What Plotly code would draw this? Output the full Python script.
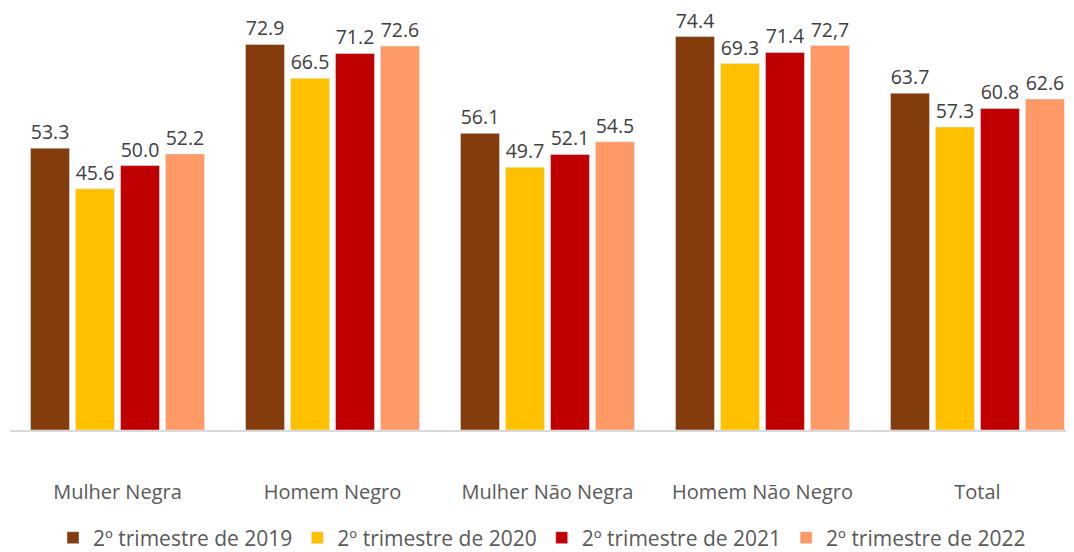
import plotly.graph_objects as go

categories = ["Mulher Negra", "Homem Negro", "Mulher Não Negra", "Homem Não Negro", "Total"]
series_names = ["2º trimestre de 2019", "2º trimestre de 2020", "2º trimestre de 2021", "2º trimestre de 2022"]
v2019 = [53.3, 72.9, 56.1, 74.4, 63.7]
v2020 = [45.6, 66.5, 49.7, 69.3, 57.3]
v2021 = [50.0, 71.2, 52.1, 71.4, 60.8]
v2022 = [52.2, 72.6, 54.5, 72.7, 62.6]
labels2022 = ["52.2", "72.6", "54.5", "72,7", "62.6"]
colors = ["#843C0C", "#FFC000", "#C00000", "#FF9966"]

series = [v2019, v2020, v2021, v2022]
fig = go.Figure()
for i, (name, vals) in enumerate(zip(series_names, series)):
    if i == 3:
        txt = labels2022
    else:
        txt = [f"{v:.1f}" for v in vals]
    fig.add_trace(go.Bar(
        x=categories, y=vals, name=name, marker_color=colors[i],
        text=txt, textposition="outside", cliponaxis=False,
        textfont=dict(size=19.5, color="#404040", family="Open Sans"),
    ))

fig.update_layout(
    width=1066, height=544,
    margin=dict(l=2, r=0, t=0, b=122, autoexpand=False),
    paper_bgcolor="white", plot_bgcolor="white",
    barmode="group", bargap=0.163, bargroupgap=0.133,
    font=dict(family="Open Sans", color="#595959"),
    showlegend=True,
    legend=dict(orientation="h", x=0.5, xanchor="center", y=-0.256, yanchor="middle",
                font=dict(size=21, color="#595959"), itemwidth=30, traceorder="normal"),
    xaxis=dict(type="category", range=[-0.5, 4.449], showline=True, linecolor="#D9D9D9",
               linewidth=2, ticks="", tickfont=dict(size=20, color="#595959"),
               ticklabelstandoff=43),
    yaxis=dict(range=[0, 79.8], visible=False, showgrid=False, zeroline=False),
)
fig.write_html("out.html")
